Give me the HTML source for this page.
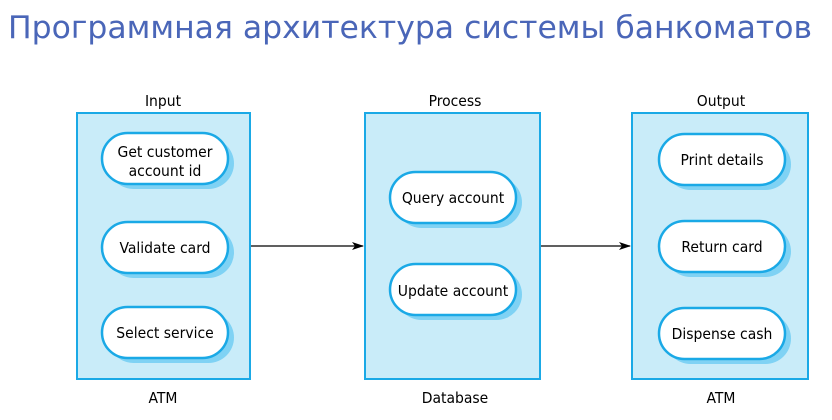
<!DOCTYPE html>
<html><head><meta charset="utf-8"><style>
html,body{margin:0;padding:0;background:#fff;width:832px;height:420px;overflow:hidden}
svg{display:block}
text{font-family:"DejaVu Sans Condensed","DejaVu Sans","Liberation Sans",sans-serif}
</style></head><body>
<svg width="832" height="420" viewBox="0 0 832 420">
<text x="8" y="38" font-size="31" fill="#4a66b8" style="font-family:'DejaVu Sans','Liberation Sans',sans-serif" textLength="804" lengthAdjust="spacingAndGlyphs">Программная архитектура системы банкоматов</text>
<defs><marker id="a" markerWidth="12" markerHeight="8" refX="11" refY="4" orient="auto" markerUnits="userSpaceOnUse"><path d="M0,0 L12,4 L0,8 L3,4 Z" fill="#000"/></marker></defs>
<g fill="#c9ecf9" stroke="#1aa9e6" stroke-width="2">
<rect x="77" y="113" width="173" height="266"/>
<rect x="365" y="113" width="175" height="266"/>
<rect x="632" y="113" width="176" height="266"/>
</g>
<g stroke="#000" stroke-width="1.3">
<line x1="251" y1="246" x2="363" y2="246" marker-end="url(#a)"/>
<line x1="541" y1="246" x2="630" y2="246" marker-end="url(#a)"/>
</g>
<g font-size="15.5" fill="#000" text-anchor="middle">
<text x="163" y="106">Input</text><text x="455" y="106">Process</text><text x="721" y="106">Output</text>
<text x="163" y="403">ATM</text><text x="455" y="403">Database</text><text x="721" y="403">ATM</text>
</g>
<g fill="#7fd2f4">
<rect x="108" y="138" width="126" height="51" rx="25.5"/>
<rect x="108" y="227" width="126" height="51" rx="25.5"/>
<rect x="108" y="312" width="126" height="51" rx="25.5"/>
<rect x="396" y="177" width="126" height="51" rx="25.5"/>
<rect x="396" y="269" width="126" height="51" rx="25.5"/>
<rect x="665" y="139" width="126" height="51" rx="25.5"/>
<rect x="665" y="226" width="126" height="51" rx="25.5"/>
<rect x="665" y="313" width="126" height="51" rx="25.5"/>
</g>
<g fill="#fff" stroke="#1aa9e6" stroke-width="2.5">
<rect x="102" y="133" width="126" height="51" rx="25.5"/>
<rect x="102" y="222" width="126" height="51" rx="25.5"/>
<rect x="102" y="307" width="126" height="51" rx="25.5"/>
<rect x="390" y="172" width="126" height="51" rx="25.5"/>
<rect x="390" y="264" width="126" height="51" rx="25.5"/>
<rect x="659" y="134" width="126" height="51" rx="25.5"/>
<rect x="659" y="221" width="126" height="51" rx="25.5"/>
<rect x="659" y="308" width="126" height="51" rx="25.5"/>
</g>
<g font-size="15.5" fill="#000" text-anchor="middle">
<text x="165" y="157">Get customer</text><text x="165" y="176">account id</text>
<text x="165" y="253">Validate card</text>
<text x="165" y="338">Select service</text>
<text x="453" y="203">Query account</text>
<text x="453" y="296">Update account</text>
<text x="722" y="165">Print details</text>
<text x="722" y="252">Return card</text>
<text x="722" y="339">Dispense cash</text>
</g>
</svg>
</body></html>
